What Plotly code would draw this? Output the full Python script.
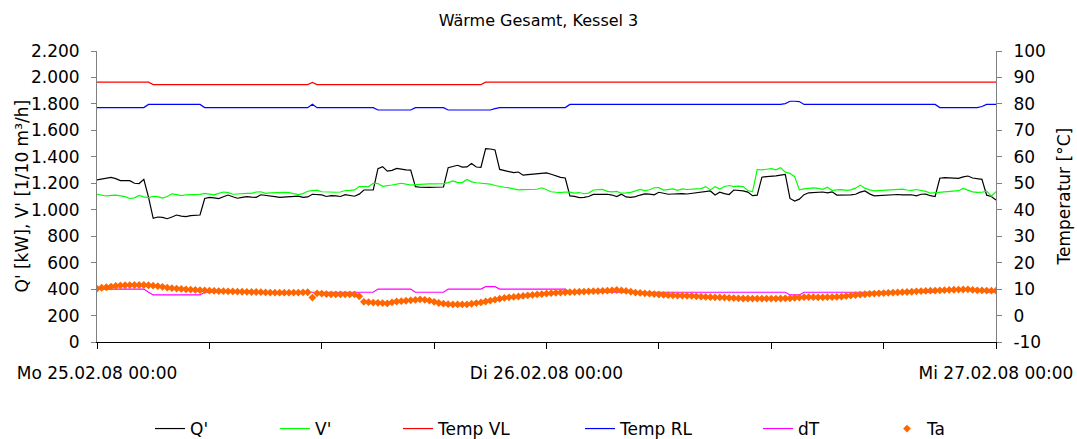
import pandas as pd
import plotly.graph_objects as go

# 15-minute readings, Mo 25.02.08 00:00 .. Mi 27.02.08 00:00
TIME = pd.date_range("2008-02-25 00:00", "2008-02-27 00:00", freq="15min")

# Heat output Q' [kW]
Q_KW = [
    1225, 1230, 1236, 1244, 1235, 1220, 1220, 1220, 1200, 1198,
    1230, 1095, 935, 945, 942, 932, 945, 960, 952, 948,
    955, 957, 960, 1085, 1093, 1090, 1084, 1098, 1111, 1098,
    1087, 1093, 1099, 1096, 1094, 1113, 1110, 1104, 1099, 1094,
    1096, 1099, 1101, 1103, 1093, 1097, 1117, 1117, 1112, 1100,
    1106, 1105, 1100, 1114, 1109, 1102, 1118, 1149, 1149, 1150,
    1310, 1326, 1292, 1298, 1313, 1306, 1301, 1300, 1174, 1170,
    1167, 1169, 1170, 1171, 1172, 1318, 1330, 1336, 1322, 1324,
    1350, 1323, 1321, 1462, 1459, 1452, 1305, 1296, 1290, 1280,
    1285, 1261, 1265, 1268, 1268, 1271, 1279, 1268, 1256, 1245,
    1240, 1104, 1101, 1091, 1093, 1100, 1116, 1117, 1119, 1117,
    1111, 1099, 1118, 1097, 1094, 1099, 1111, 1120, 1118, 1113,
    1132, 1126, 1117, 1119, 1122, 1122, 1119, 1123, 1128, 1134,
    1140, 1142, 1111, 1132, 1122, 1115, 1149, 1146, 1142, 1133,
    1106, 1110, 1246, 1250, 1252, 1256, 1262, 1267, 1085, 1066,
    1080, 1114, 1128, 1130, 1131, 1134, 1128, 1135, 1111, 1111,
    1114, 1113, 1117, 1133, 1142, 1120, 1105, 1108, 1111, 1111,
    1113, 1115, 1112, 1114, 1113, 1105, 1117, 1118, 1106, 1100,
    1238, 1243, 1242, 1237, 1237, 1248, 1255, 1240, 1234, 1230,
    1110, 1100, 1074,
]

# Volume flow V' [1/10 m3/h]
V_FLOW = [
    1116, 1110, 1104, 1108, 1110, 1105, 1099, 1085, 1090, 1108,
    1097, 1092, 1102, 1099, 1088, 1100, 1120, 1114, 1106, 1113,
    1115, 1112, 1116, 1123, 1117, 1113, 1124, 1134, 1129, 1117,
    1119, 1123, 1124, 1124, 1134, 1136, 1124, 1127, 1130, 1131,
    1131, 1129, 1123, 1114, 1122, 1140, 1145, 1148, 1136, 1134,
    1137, 1132, 1134, 1145, 1146, 1150, 1175, 1177, 1175, 1200,
    1198, 1177, 1180, 1187, 1193, 1200, 1193, 1187, 1190, 1193,
    1195, 1195, 1195, 1195, 1198, 1205, 1218, 1205, 1205, 1229,
    1211, 1204, 1202, 1200, 1193, 1183, 1175, 1170, 1165, 1158,
    1150, 1152, 1154, 1154, 1155, 1166, 1150, 1136, 1132, 1130,
    1134, 1133, 1126, 1130, 1121, 1126, 1149, 1151, 1154, 1139,
    1135, 1138, 1125, 1127, 1131, 1142, 1154, 1145, 1151, 1166,
    1167, 1149, 1153, 1157, 1147, 1157, 1153, 1158, 1158, 1160,
    1175, 1150, 1174, 1156, 1176, 1183, 1175, 1179, 1175, 1145,
    1135, 1304, 1301, 1306, 1310, 1302, 1318, 1284, 1275, 1250,
    1150, 1158, 1163, 1165, 1162, 1154, 1170, 1145, 1150, 1152,
    1146, 1150, 1163, 1186, 1163, 1150, 1143, 1146, 1149, 1151,
    1154, 1155, 1156, 1149, 1146, 1153, 1148, 1139, 1125, 1128,
    1131, 1135, 1137, 1137, 1144, 1161, 1145, 1135, 1131, 1132,
    1141, 1102, 1137,
]

# Supply temperature [°C]
TEMP_VL = [
    88.2, 88.2, 88.2, 88.2, 88.2, 88.2, 88.2, 88.2, 88.2, 88.2,
    88.2, 88.2, 87.3, 87.3, 87.3, 87.3, 87.3, 87.3, 87.3, 87.3,
    87.3, 87.3, 87.3, 87.3, 87.3, 87.3, 87.3, 87.3, 87.3, 87.3,
    87.3, 87.3, 87.3, 87.3, 87.3, 87.3, 87.3, 87.3, 87.3, 87.3,
    87.3, 87.3, 87.3, 87.3, 87.3, 87.3, 88.1, 87.3, 87.3, 87.3,
    87.3, 87.3, 87.3, 87.3, 87.3, 87.3, 87.3, 87.3, 87.3, 87.3,
    87.3, 87.3, 87.3, 87.3, 87.3, 87.3, 87.3, 87.3, 87.3, 87.3,
    87.3, 87.3, 87.3, 87.3, 87.3, 87.3, 87.3, 87.3, 87.3, 87.3,
    87.3, 87.3, 87.3, 88.2, 88.2, 88.2, 88.2, 88.2, 88.2, 88.2,
    88.2, 88.2, 88.2, 88.2, 88.2, 88.2, 88.2, 88.2, 88.2, 88.2,
    88.2, 88.2, 88.2, 88.2, 88.2, 88.2, 88.2, 88.2, 88.2, 88.2,
    88.2, 88.2, 88.2, 88.2, 88.2, 88.2, 88.2, 88.2, 88.2, 88.2,
    88.2, 88.2, 88.2, 88.2, 88.2, 88.2, 88.2, 88.2, 88.2, 88.2,
    88.2, 88.2, 88.2, 88.2, 88.2, 88.2, 88.2, 88.2, 88.2, 88.2,
    88.2, 88.2, 88.2, 88.2, 88.2, 88.2, 88.2, 88.2, 88.2, 88.2,
    88.2, 88.2, 88.2, 88.2, 88.2, 88.2, 88.2, 88.2, 88.2, 88.2,
    88.2, 88.2, 88.2, 88.2, 88.2, 88.2, 88.2, 88.2, 88.2, 88.2,
    88.2, 88.2, 88.2, 88.2, 88.2, 88.2, 88.2, 88.2, 88.2, 88.2,
    88.2, 88.2, 88.2, 88.2, 88.2, 88.2, 88.2, 88.2, 88.2, 88.2,
    88.2, 88.2, 88.2,
]

# Return temperature [°C]
TEMP_RL = [
    78.6, 78.6, 78.6, 78.6, 78.6, 78.6, 78.6, 78.6, 78.6, 78.6,
    78.6, 79.8, 79.8, 79.8, 79.8, 79.8, 79.8, 79.8, 79.8, 79.8,
    79.8, 79.8, 79.8, 78.6, 78.6, 78.6, 78.6, 78.6, 78.6, 78.6,
    78.6, 78.6, 78.6, 78.6, 78.6, 78.6, 78.6, 78.6, 78.6, 78.6,
    78.6, 78.6, 78.6, 78.6, 78.6, 78.6, 79.9, 78.6, 78.6, 78.6,
    78.6, 78.6, 78.6, 78.6, 78.6, 78.6, 78.6, 78.6, 78.6, 78.6,
    77.7, 77.7, 77.7, 77.7, 77.7, 77.7, 77.7, 77.7, 78.6, 78.6,
    78.6, 78.6, 78.6, 78.6, 78.6, 77.7, 77.7, 77.7, 77.7, 77.7,
    77.7, 77.7, 77.7, 77.7, 77.7, 78.2, 78.6, 78.6, 78.6, 78.6,
    78.6, 78.6, 78.6, 78.6, 78.6, 78.6, 78.6, 78.6, 78.6, 78.6,
    78.6, 79.8, 79.8, 79.8, 79.8, 79.8, 79.8, 79.8, 79.8, 79.8,
    79.8, 79.8, 79.8, 79.8, 79.8, 79.8, 79.8, 79.8, 79.8, 79.8,
    79.8, 79.8, 79.8, 79.8, 79.8, 79.8, 79.8, 79.8, 79.8, 79.8,
    79.8, 79.8, 79.8, 79.8, 79.8, 79.8, 79.8, 79.8, 79.8, 79.8,
    79.8, 79.8, 79.8, 79.8, 79.8, 79.8, 79.8, 80.1, 81.0, 81.0,
    80.9, 79.8, 79.8, 79.8, 79.8, 79.8, 79.8, 79.8, 79.8, 79.8,
    79.8, 79.8, 79.8, 79.8, 79.8, 79.8, 79.8, 79.8, 79.8, 79.8,
    79.8, 79.8, 79.8, 79.8, 79.8, 79.8, 79.8, 79.8, 79.8, 79.8,
    78.6, 78.6, 78.6, 78.6, 78.6, 78.6, 78.6, 78.6, 78.6, 79.0,
    79.8, 79.8, 79.8,
]

# Temperature spread dT [K]
DELTA_T = [
    10.0, 10.0, 10.0, 10.0, 10.0, 10.0, 10.0, 10.0, 10.0, 10.0,
    10.0, 8.8, 7.8, 7.8, 7.8, 7.8, 7.8, 7.8, 7.8, 7.8,
    7.8, 7.8, 7.8, 8.8, 8.8, 8.8, 8.8, 8.8, 8.8, 8.8,
    8.8, 8.8, 8.8, 8.8, 8.8, 8.8, 8.8, 8.8, 8.8, 8.8,
    8.8, 8.8, 8.8, 8.8, 8.8, 8.8, 8.8, 8.8, 8.8, 8.8,
    8.8, 8.8, 8.8, 8.8, 8.8, 8.8, 8.8, 8.8, 8.8, 8.8,
    10.0, 10.0, 10.0, 10.0, 10.0, 10.0, 10.0, 10.0, 8.8, 8.8,
    8.8, 8.8, 8.8, 8.8, 8.8, 10.0, 10.0, 10.0, 10.0, 10.0,
    10.0, 10.0, 10.0, 10.9, 10.9, 10.9, 10.0, 10.0, 10.0, 10.0,
    10.0, 10.0, 10.0, 10.0, 10.0, 10.0, 10.0, 10.0, 10.0, 10.0,
    10.0, 8.8, 8.8, 8.8, 8.8, 8.8, 8.8, 8.8, 8.8, 8.8,
    8.8, 8.8, 8.8, 8.8, 8.8, 8.8, 8.8, 8.8, 8.8, 8.8,
    8.8, 8.8, 8.8, 8.8, 8.8, 8.8, 8.8, 8.8, 8.8, 8.8,
    8.8, 8.8, 8.8, 8.8, 8.8, 8.8, 8.8, 8.8, 8.8, 8.8,
    8.8, 8.8, 8.8, 8.8, 8.8, 8.8, 8.8, 8.8, 7.8, 7.8,
    7.8, 8.8, 8.8, 8.8, 8.8, 8.8, 8.8, 8.8, 8.8, 8.8,
    8.8, 8.8, 8.8, 8.8, 8.8, 8.8, 8.8, 8.8, 8.8, 8.8,
    8.8, 8.8, 8.8, 8.8, 8.8, 8.8, 8.8, 8.8, 8.8, 8.8,
    9.8, 9.8, 9.8, 9.8, 9.8, 9.8, 9.8, 9.8, 9.8, 9.8,
    8.8, 8.8, 8.8,
]

# Outdoor temperature Ta [°C]
TEMP_A = [
    10.2, 10.5, 10.7, 10.95, 11.2, 11.4, 11.45, 11.5, 11.55, 11.55,
    11.55, 11.45, 11.3, 11.1, 10.85, 10.55, 10.35, 10.2, 10.05, 9.9,
    9.8, 9.7, 9.6, 9.5, 9.4, 9.35, 9.25, 9.2, 9.15, 9.1,
    9.05, 9.0, 8.95, 8.9, 8.9, 8.85, 8.75, 8.7, 8.65, 8.65,
    8.65, 8.65, 8.7, 8.7, 8.75, 8.8, 6.8, 8.4, 8.25, 8.1,
    8.0, 8.0, 8.0, 8.0, 8.0, 8.0, 7.3, 5.2, 5.05, 4.9,
    4.8, 4.7, 4.6, 5.0, 5.3, 5.45, 5.6, 5.75, 5.9, 6.1,
    5.95, 5.65, 5.2, 4.75, 4.5, 4.3, 4.2, 4.2, 4.2, 4.2,
    4.45, 4.7, 4.95, 5.3, 5.65, 6.0, 6.35, 6.65, 6.9, 7.05,
    7.2, 7.4, 7.6, 7.8, 8.0, 8.1, 8.3, 8.45, 8.6, 8.7,
    8.8, 8.85, 8.9, 9.0, 9.05, 9.15, 9.2, 9.25, 9.35, 9.4,
    9.55, 9.65, 9.5, 9.3, 9.0, 8.7, 8.55, 8.4, 8.25, 8.1,
    7.95, 7.85, 7.7, 7.6, 7.55, 7.5, 7.45, 7.4, 7.25, 7.15,
    7.05, 6.95, 6.9, 6.85, 6.8, 6.7, 6.6, 6.5, 6.45, 6.45,
    6.4, 6.4, 6.4, 6.4, 6.4, 6.4, 6.45, 6.5, 6.5, 6.65,
    6.8, 6.95, 7.0, 6.95, 6.9, 6.9, 6.95, 7.0, 7.05, 7.15,
    7.35, 7.55, 7.75, 7.9, 8.05, 8.2, 8.3, 8.4, 8.5, 8.6,
    8.7, 8.75, 8.85, 8.9, 9.0, 9.15, 9.25, 9.3, 9.4, 9.45,
    9.5, 9.6, 9.7, 9.75, 9.8, 9.85, 9.9, 9.7, 9.55, 9.5,
    9.45, 9.4, 9.4,
]

SERIES_NAMES = ["Q'", "V'", "Temp VL", "Temp RL", "dT", "Ta"]
X_TICK_TEXT = ["Mo 25.02.08 00:00", "", "", "", "Di 26.02.08 00:00",
               "", "", "", "Mi 27.02.08 00:00"]
Y_LEFT_TICKS = [0, 200, 400, 600, 800, 1000, 1200, 1400, 1600, 1800, 2000, 2200]
Y_RIGHT_TICKS = [-10, 0, 10, 20, 30, 40, 50, 60, 70, 80, 90, 100]
Y_RIGHT_TEXT = ["-10", "0", "10", "20", "30", "40", "50", "60", "70", "80", "90", "100"]
TITLE = "Wärme Gesamt, Kessel 3"
LEFT_TITLE = "Q' [kW], V' [1/10 m³/h]"
RIGHT_TITLE = "Temperatur [°C]"

FONT = "DejaVu Sans"
W, H = 1077, 439
ML, MR, MT, MB = 97, 81, 51, 97
PW, PH = W - ML - MR, H - MT - MB

fig = go.Figure()

line_specs = [
    (Q_KW, "#000000", "y"),
    (V_FLOW, "#00FF00", "y"),
    (TEMP_VL, "#FF0000", "y2"),
    (TEMP_RL, "#0000FF", "y2"),
    (DELTA_T, "#FF00FF", "y2"),
]
for i, (vals, color, axis) in enumerate(line_specs):
    fig.add_trace(go.Scatter(
        x=TIME, y=vals, name=SERIES_NAMES[i], mode="lines",
        line=dict(color=color, width=1.2), yaxis=axis,
        legend="legend" if i == 0 else f"legend{i + 1}",
    ))

fig.add_trace(go.Scatter(
    x=TIME, y=TEMP_A, name=SERIES_NAMES[5], mode="markers",
    marker=dict(symbol="diamond", size=6, color="#FF6600", line=dict(width=0)),
    yaxis="y2", legend="legend6",
))

# legend entries sit on one row below the time axis, each at its own spot
legend_left_px = [150, 275, 398, 580, 758, 887]
legend_top_px = 411
legends = {}
for i, px in enumerate(legend_left_px):
    key = "legend" if i == 0 else f"legend{i + 1}"
    legends[key] = dict(
        x=px / W, y=1 - legend_top_px / H, xref="container", yref="container",
        xanchor="left", yanchor="top", orientation="h",
        bgcolor="rgba(0,0,0,0)", borderwidth=0,
        font=dict(family=FONT, size=17, color="#000000"),
    )

x_ticks = pd.date_range("2008-02-25 00:00", "2008-02-27 00:00", freq="6h")

fig.update_layout(
    width=W, height=H,
    margin=dict(l=ML, r=MR, t=MT, b=MB, pad=0, autoexpand=False),
    paper_bgcolor="#FFFFFF", plot_bgcolor="#FFFFFF",
    separators=",.",
    font=dict(family=FONT, size=17, color="#000000"),
    title=dict(text=TITLE, x=0.5, xref="container", xanchor="center",
               y=1 - 20 / H, yref="container", yanchor="middle",
               font=dict(family=FONT, size=16, color="#000000")),
    showlegend=True,
    xaxis=dict(
        range=[TIME[0], TIME[-1]], tickvals=x_ticks, ticktext=X_TICK_TEXT,
        tickangle=0, ticks="outside", ticklen=6, tickcolor="#000000",
        showline=True, linecolor="#000000", linewidth=1,
        showgrid=False, zeroline=False, automargin=False,
        ticklabelstandoff=10,
        tickfont=dict(family=FONT, size=17, color="#000000"),
    ),
    yaxis=dict(
        range=[0, 2200], tickvals=Y_LEFT_TICKS, tickformat=",d",
        ticks="outside", ticklen=5, tickcolor="#808080",
        showline=True, linecolor="#808080", linewidth=1,
        showgrid=False, zeroline=False, ticklabelstandoff=8, automargin=False,
        tickfont=dict(family=FONT, size=17, color="#000000"),
    ),
    yaxis2=dict(
        range=[-10, 100], tickvals=Y_RIGHT_TICKS, ticktext=Y_RIGHT_TEXT,
        overlaying="y", side="right",
        ticks="outside", ticklen=5, tickcolor="#808080",
        showline=True, linecolor="#808080", linewidth=1,
        showgrid=False, zeroline=False, ticklabelstandoff=8, automargin=False,
        tickfont=dict(family=FONT, size=17, color="#000000"),
    ),
    # horizontal grid between the bottom axis and the top value
    yaxis3=dict(
        range=[0, 2200], tickvals=Y_LEFT_TICKS[1:-1],
        overlaying="y", side="left", showticklabels=False, ticks="",
        showgrid=True, gridcolor="#000000", gridwidth=1,
        showline=False, zeroline=False, layer="below traces", automargin=False,
    ),
    annotations=[
        dict(text=LEFT_TITLE, textangle=-90, xref="paper", yref="paper",
             x=(21 - ML) / PW, y=0.5, xanchor="center", yanchor="middle",
             showarrow=False, font=dict(family=FONT, size=17, color="#000000")),
        dict(text=RIGHT_TITLE, textangle=-90, xref="paper", yref="paper",
             x=(1063 - ML) / PW, y=0.5, xanchor="center", yanchor="middle",
             showarrow=False, font=dict(family=FONT, size=17, color="#000000")),
    ],
    **legends,
)

fig.write_html("out.html")
